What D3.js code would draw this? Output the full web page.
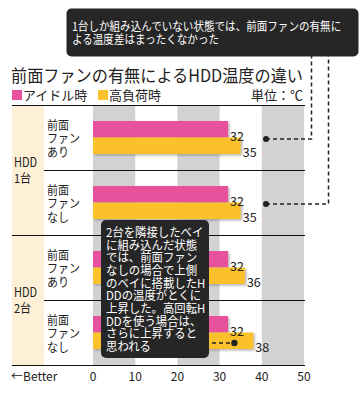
<!DOCTYPE html>
<html>
<head>
<meta charset="utf-8">
<script src="https://cdn.jsdelivr.net/npm/d3@7"></script>
<style>
  body { margin: 0; background: #fff; }
  svg text { font-family: "Noto Sans CJK JP", "Noto Sans", sans-serif; }
</style>
</head>
<body>
<div id="chart"></div>
<script>
// data
const groups = ["HDD|1台", "HDD|2台"];
const rows = ["前面|ファン|あり", "前面|ファン|なし", "前面|ファン|あり", "前面|ファン|なし"];
const rowGroup = [0, 0, 1, 1];
const idle = [32, 32, 32, 32];
const load = [35, 35, 36, 38];
const series = ["アイドル時", "高負荷時"];
const xTicks = [0, 10, 20, 30, 40, 50];
const bandTicks = [[0, 10], [20, 30], [40, 50]];
const noteTop = ["1台しか組み込んでいない状態では、前面ファンの有無に", "よる温度差はまったくなかった"];
const noteLow = ["2台を隣接したベイ", "に組み込んだ状態", "では、前面ファン", "なしの場合で上側",
                 "のベイに搭載したH", "DDの温度がとくに", "上昇した。高回転H", "DDを使う場合は、",
                 "さらに上昇すると", "思われる"];

const width = 363, height = 393;
const pink = "#e8519b", yellow = "#fbc12a";

const svg = d3.select("#chart")
  .append("svg")
    .attr("width", width)
    .attr("height", height);

const defs = svg.append("defs");
defs.append("filter")
    .attr("id", "shadow")
    .attr("x", "-5%").attr("y", "-20%")
    .attr("width", "115%").attr("height", "160%")
  .append("feDropShadow")
    .attr("dx", 1.5).attr("dy", 1.5)
    .attr("stdDeviation", 0.8)
    .attr("flood-color", "#777")
    .attr("flood-opacity", 0.55);

// scales
const x = d3.scaleLinear().domain([0, 50]).range([93, 304]);
const y = d3.scaleBand().domain(d3.range(rows.length)).range([105, 365]);
const yIn = d3.scaleBand().domain([0, 1]).range([16, 49]);

// multi-line condensed text block (the original uses a narrow gothic face)
function block(parent, x0, lines, y0, step, size, color, squeeze) {
  parent.append("g")
      .attr("transform", `translate(${x0},0) scale(${squeeze},1)`)
    .append("text")
      .style("font-size", size + "px")
      .style("fill", color)
    .selectAll("tspan")
    .data(lines)
    .join("tspan")
      .attr("x", 0)
      .attr("y", (d, j) => y0 + j * step)
      .text(d => d);
}

// title + legend
svg.append("text")
    .attr("x", 11).attr("y", 82)
    .style("font-size", "17.5px")
    .style("fill", "#222")
    .attr("textLength", 292)
    .attr("lengthAdjust", "spacingAndGlyphs")
    .text("前面ファンの有無によるHDD温度の違い");

const legend = svg.append("g");
[pink, yellow].forEach(function(c, i) {
  const lx = i === 0 ? 12 : 98;
  legend.append("rect")
      .attr("x", lx).attr("y", 90)
      .attr("width", 10).attr("height", 10)
      .attr("fill", c);
  legend.append("text")
      .attr("x", lx + 11).attr("y", 100)
      .style("font-size", "13px")
      .style("fill", "#222")
      .text(series[i]);
});
svg.append("text")
    .attr("x", 303).attr("y", 100)
    .attr("text-anchor", "end")
    .style("font-size", "13px")
    .style("fill", "#222")
    .text("単位：℃");

// beige group column
svg.append("rect")
    .attr("x", 12).attr("y", 105)
    .attr("width", 32).attr("height", 260)
    .attr("fill", "#fdf0d6");

// gray bands
svg.append("g")
  .selectAll("rect")
  .data(bandTicks)
  .join("rect")
    .attr("x", d => x(d[0]))
    .attr("y", 105)
    .attr("width", d => x(d[1]) - x(d[0]))
    .attr("height", 260)
    .attr("fill", "#d2d2d2");

// bars
const rowG = svg.append("g")
  .selectAll("g")
  .data(d3.range(rows.length))
  .join("g")
    .attr("transform", i => `translate(0,${y(i)})`);

rowG.append("rect")
    .attr("x", x(0))
    .attr("y", yIn(0))
    .attr("width", i => x(idle[i]) - x(0))
    .attr("height", yIn.bandwidth())
    .attr("fill", pink)
    .attr("filter", "url(#shadow)");

rowG.append("rect")
    .attr("x", x(0))
    .attr("y", yIn(1))
    .attr("width", i => x(load[i]) - x(0))
    .attr("height", yIn.bandwidth())
    .attr("fill", yellow)
    .attr("filter", "url(#shadow)");

rowG.append("text")
    .attr("x", i => x(idle[i]) + 2)
    .attr("y", yIn(0) + yIn.bandwidth() + 3)
    .style("font-size", "12.5px")
    .style("fill", "#222")
    .text(i => idle[i]);

rowG.append("text")
    .attr("x", i => x(load[i]) + 2)
    .attr("y", yIn(1) + yIn.bandwidth() + 3)
    .style("font-size", "12.5px")
    .style("fill", "#222")
    .text(i => load[i]);

// row labels
rowG.each(function(i) {
  block(d3.select(this), 47, rows[i].split("|"), 25, 13.5, 12.5, "#222", 0.88);
});

// group labels
groups.forEach(function(g, gi) {
  const idx = rowGroup.indexOf(gi);
  const mid = y(idx) + y.bandwidth();
  block(svg, 14, g.split("|"), mid - 3, 16, 12.5, "#222", 0.88);
});

// separators
const lines = svg.append("g").attr("stroke", "#111").attr("stroke-width", 1.2);
lines.append("line").attr("x1", 12).attr("x2", 305).attr("y1", 105.5).attr("y2", 105.5);
d3.range(1, rows.length).forEach(function(i) {
  const newGroup = rowGroup[i] !== rowGroup[i - 1];
  lines.append("line")
      .attr("x1", newGroup ? 12 : 44).attr("x2", 305)
      .attr("y1", y(i) + 0.5).attr("y2", y(i) + 0.5);
});
lines.append("line").attr("x1", 12).attr("x2", 305).attr("y1", 365.5).attr("y2", 365.5);

// x axis labels
svg.append("g")
  .selectAll("text")
  .data(xTicks)
  .join("text")
    .attr("x", d => x(d))
    .attr("y", 381)
    .attr("text-anchor", "middle")
    .style("font-size", "12px")
    .style("fill", "#222")
    .text(d => d);

svg.append("text")
    .attr("x", 11).attr("y", 381)
    .style("font-size", "12px")
    .style("fill", "#222")
    .text("←Better");

// callouts
const note = svg.append("g");

function dashed(points) {
  note.append("path")
      .attr("d", d3.line()(points))
      .attr("stroke", "#222")
      .attr("stroke-width", 1.5)
      .attr("stroke-dasharray", "4,3")
      .attr("fill", "none");
}

// top note -> rows 1 and 2
const dotX = x(41);
dashed([[dotX, y(0) + 34], [311.5, y(0) + 34], [311.5, 56]]);
dashed([[dotX, y(1) + 34], [328.5, y(1) + 34], [328.5, 56]]);
note.append("circle").attr("cx", dotX).attr("cy", y(0) + 34).attr("r", 3).attr("fill", "#222");
note.append("circle").attr("cx", dotX).attr("cy", y(1) + 34).attr("r", 3).attr("fill", "#222");

note.append("rect")
    .attr("x", 66.5).attr("y", 8.5)
    .attr("width", 292).attr("height", 48)
    .attr("rx", 5)
    .attr("fill", "#262626");
block(note, 72, noteTop, 31, 13, 12, "#fff", 0.88);

// lower note -> row 4
const dot2X = x(33.5);
dashed([[205, y(3) + 43], [dot2X, y(3) + 43]]);
note.append("circle").attr("cx", dot2X).attr("cy", y(3) + 43).attr("r", 3.2).attr("fill", "#222");

note.append("rect")
    .attr("x", 101).attr("y", 220)
    .attr("width", 108).attr("height", 138)
    .attr("rx", 5)
    .attr("fill", "#262626");
block(note, 106, noteLow, 237, 12.67, 12, "#fff", 0.95);
</script>
</body>
</html>
